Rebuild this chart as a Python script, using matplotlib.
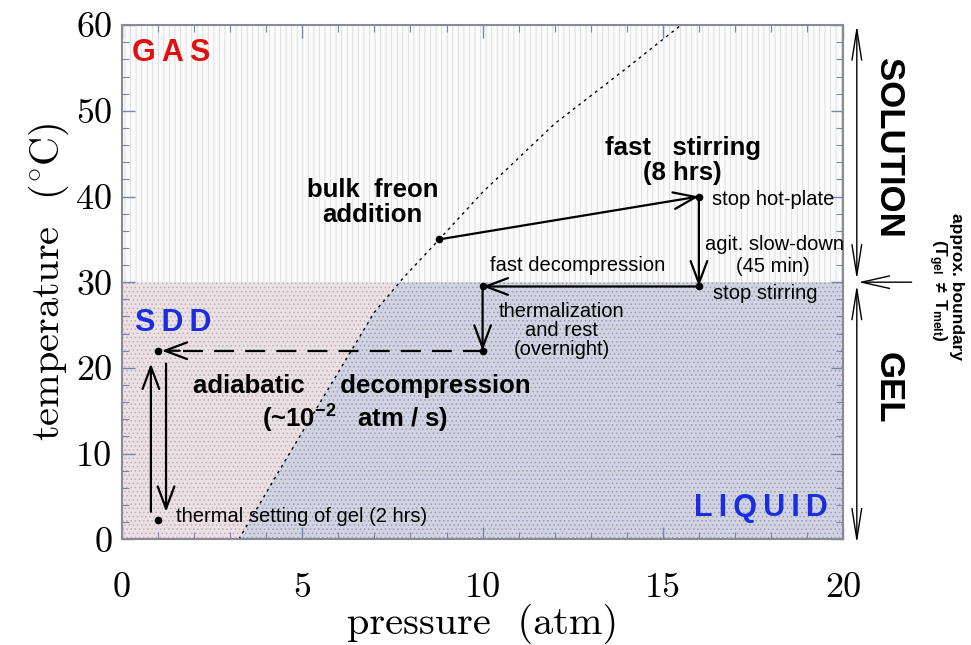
import numpy as np
import matplotlib
matplotlib.use("Agg")
import matplotlib.pyplot as plt

plt.rcParams['font.family'] = ['Liberation Sans', 'DejaVu Sans']
plt.rcParams['mathtext.fontset'] = 'custom'
plt.rcParams['mathtext.rm'] = 'Liberation Sans'
plt.rcParams['mathtext.bf'] = 'Liberation Sans:bold'
plt.rcParams['mathtext.it'] = 'Liberation Sans'
plt.rcParams['hatch.linewidth'] = 0.6

# gas/liquid boundary of freon
bnd_p = [3.24, 4.5, 5.5, 7.0, 7.8, 8.8, 10.0, 12.0, 14.0, 15.5]
bnd_T = [0.0, 9.0, 16.0, 26.5, 30.5, 35.0, 40.5, 48.5, 55.0, 60.0]
T_gel = 30.0

# process steps (pressure atm, temperature C)
freon_pt = (8.8, 35.0)
hotplate_pt = (16.0, 40.0)
stopstir_pt = (16.0, 29.5)
decomp_pt = (10.0, 29.5)
rest_pt = (10.0, 22.0)
sdd_pt = (1.0, 22.0)
setting_pt = (1.0, 2.2)
up_x, down_x = 0.8, 1.22

fig = plt.figure(figsize=(9.71, 6.45), dpi=100)
ax = fig.add_axes([0.1257, 0.164, 0.7426, 0.797])
ax.set_xlim(0, 20)
ax.set_ylim(0, 60)

# background regions
ax.axhspan(T_gel, 60, facecolor='#fbfbfb', edgecolor='#d9d9d9', hatch='|||', lw=0, zorder=0)
Tg = np.linspace(0, T_gel, 200)
pg = np.interp(Tg, bnd_T, bnd_p)
ax.fill_betweenx(Tg, 0, pg, facecolor='#ebe1e5', edgecolor='#bdaeb4', hatch='....', lw=0, zorder=0)
ax.fill_betweenx(Tg, pg, 20, facecolor='#d2d4e2', edgecolor='#999dba', hatch='....', lw=0, zorder=0)
ax.plot(bnd_p, bnd_T, color='black', lw=1.0, ls=(0, (2, 3)), zorder=2)

arrow_kw = dict(arrowstyle='->,head_length=1.6,head_width=0.6', color='black', lw=1.6,
                shrinkA=0, shrinkB=0)

def arrow(p0, p1, **kw):
    props = dict(arrow_kw)
    props.update(kw)
    ax.annotate('', xy=p1, xytext=p0, arrowprops=props, zorder=4)

arrow(freon_pt, hotplate_pt)
arrow(hotplate_pt, stopstir_pt)
arrow(stopstir_pt, decomp_pt)
arrow(decomp_pt, rest_pt)
ax.plot([rest_pt[0], sdd_pt[0] + 0.5], [rest_pt[1], sdd_pt[1]], color='black', lw=1.6,
        ls=(0, (9, 5)), zorder=3)
arrow((sdd_pt[0] + 0.6, sdd_pt[1]), (sdd_pt[0] + 0.1, sdd_pt[1]))
arrow((up_x, 3.2), (up_x, 20.5))
arrow((down_x, 20.5), (down_x, 3.2))

pts = [freon_pt, hotplate_pt, stopstir_pt, decomp_pt, rest_pt, sdd_pt, setting_pt]
ax.plot([p[0] for p in pts], [p[1] for p in pts], 'o', color='black', ms=4.5, ls='none', zorder=5)

# region names
ax.text(0.28, 56.8, 'G\u2009A\u2009S', color='#e01010', fontsize=22, fontweight='bold', va='center')
ax.text(0.35, 25.2, 'S\u2009D\u2009D', color='#1a2ee0', fontsize=22, fontweight='bold', va='center')
ax.text(19.58, 3.7, 'L\u2009I\u2009Q\u2009U\u2009I\u2009D', color='#1a2ee0', fontsize=22,
        fontweight='bold', va='center', ha='right')

# step labels
big = 18.5
small = 14.5
ax.text(6.95, 39.3, 'bulk  freon\naddition', fontsize=big, fontweight='bold', ha='center',
        va='center', linespacing=1.05)
ax.text(15.55, 44.2, 'fast   stirring\n(8 hrs)', fontsize=big, fontweight='bold', ha='center',
        va='center', linespacing=1.05)
ax.text(16.35, 39.6, 'stop hot-plate', fontsize=small, va='center')
ax.text(16.17, 34.4, 'agit. slow-down', fontsize=small, va='center')
ax.text(18.05, 31.8, '(45 min)', fontsize=small, va='center', ha='center')
ax.text(10.2, 32.0, 'fast decompression', fontsize=small, va='center')
ax.text(16.4, 28.7, 'stop stirring', fontsize=small, va='center')
ax.text(12.2, 24.4, 'thermalization\nand rest\n(overnight)', fontsize=small, ha='center',
        va='center', linespacing=1.0)
ax.text(1.97, 17.85, 'adiabatic     decompression', fontsize=big, fontweight='bold', va='center')
ax.text(3.88, 14.0, r'(~10$^{\mathbf{-2}}$   atm / s)', fontsize=big, fontweight='bold', va='center')
ax.text(1.5, 2.6, 'thermal setting of gel (2 hrs)', fontsize=small, va='center')

# right side: solution / gel ranges
side_x = 20.38
side_kw = dict(arrowstyle='<->,head_length=2.2,head_width=0.35', color='black', lw=1.0,
               shrinkA=0, shrinkB=0)
ax.annotate('', xy=(side_x, 60.0), xytext=(side_x, 30.3), arrowprops=side_kw,
            annotation_clip=False)
ax.annotate('', xy=(side_x, 29.7), xytext=(side_x, -0.5), arrowprops=side_kw,
            annotation_clip=False)
ax.annotate('', xy=(side_x + 0.05, 30.0), xytext=(21.9, 30.0),
            arrowprops=dict(arrowstyle='->,head_length=2.0,head_width=0.45', color='black',
                            lw=1.0, shrinkA=0, shrinkB=0), annotation_clip=False)
narrow = ['Liberation Sans Narrow', 'Liberation Sans']
ax.text(21.25, 45.7, 'SOLUTION', fontsize=25, fontweight='bold', rotation=-90, ha='center',
        va='center', clip_on=False, fontfamily=narrow)
ax.text(21.25, 17.7, 'GEL', fontsize=25, fontweight='bold', rotation=-90, ha='center',
        va='center', clip_on=False, fontfamily=narrow)
ax.text(23.15, 29.5, 'approx. boundary', fontsize=12.5, fontweight='bold', rotation=-90,
        ha='center', va='center', clip_on=False)
ax.text(22.6, 29.0, r'$\mathbf{(T_{gel}\ \neq\ T_{melt})}$', fontsize=12.5, rotation=-90,
        ha='center', va='center', clip_on=False)

# axes styling
ax.set_xticks(np.arange(0, 21, 5))
ax.set_xticks(np.arange(0, 21, 1), minor=True)
ax.set_yticks(np.arange(0, 61, 10))
ax.set_yticks(np.arange(0, 61, 2), minor=True)
ax.tick_params(which='both', direction='in', top=True, right=True, color='#7a84a8')
ax.tick_params(which='major', length=9, width=1.0)
ax.tick_params(which='minor', length=5, width=0.8)
ax.tick_params(axis='x', which='major', pad=24)
ax.tick_params(axis='y', which='major', pad=7)
for lab in ax.get_xticklabels() + ax.get_yticklabels():
    lab.set_fontfamily('cmr10')
    lab.set_fontsize(26)
for sp in ax.spines.values():
    sp.set_color('#8a8a94')
    sp.set_linewidth(1.5)

ax.set_xlabel('pressure  (atm)', fontfamily='cmr10', fontsize=29, labelpad=0)
ax.set_ylabel(r'temperature  ($^{\circ}$C)', fontfamily='cmr10', fontsize=29,
              math_fontfamily='cm', labelpad=4)

fig.savefig('out.png', dpi=100)
